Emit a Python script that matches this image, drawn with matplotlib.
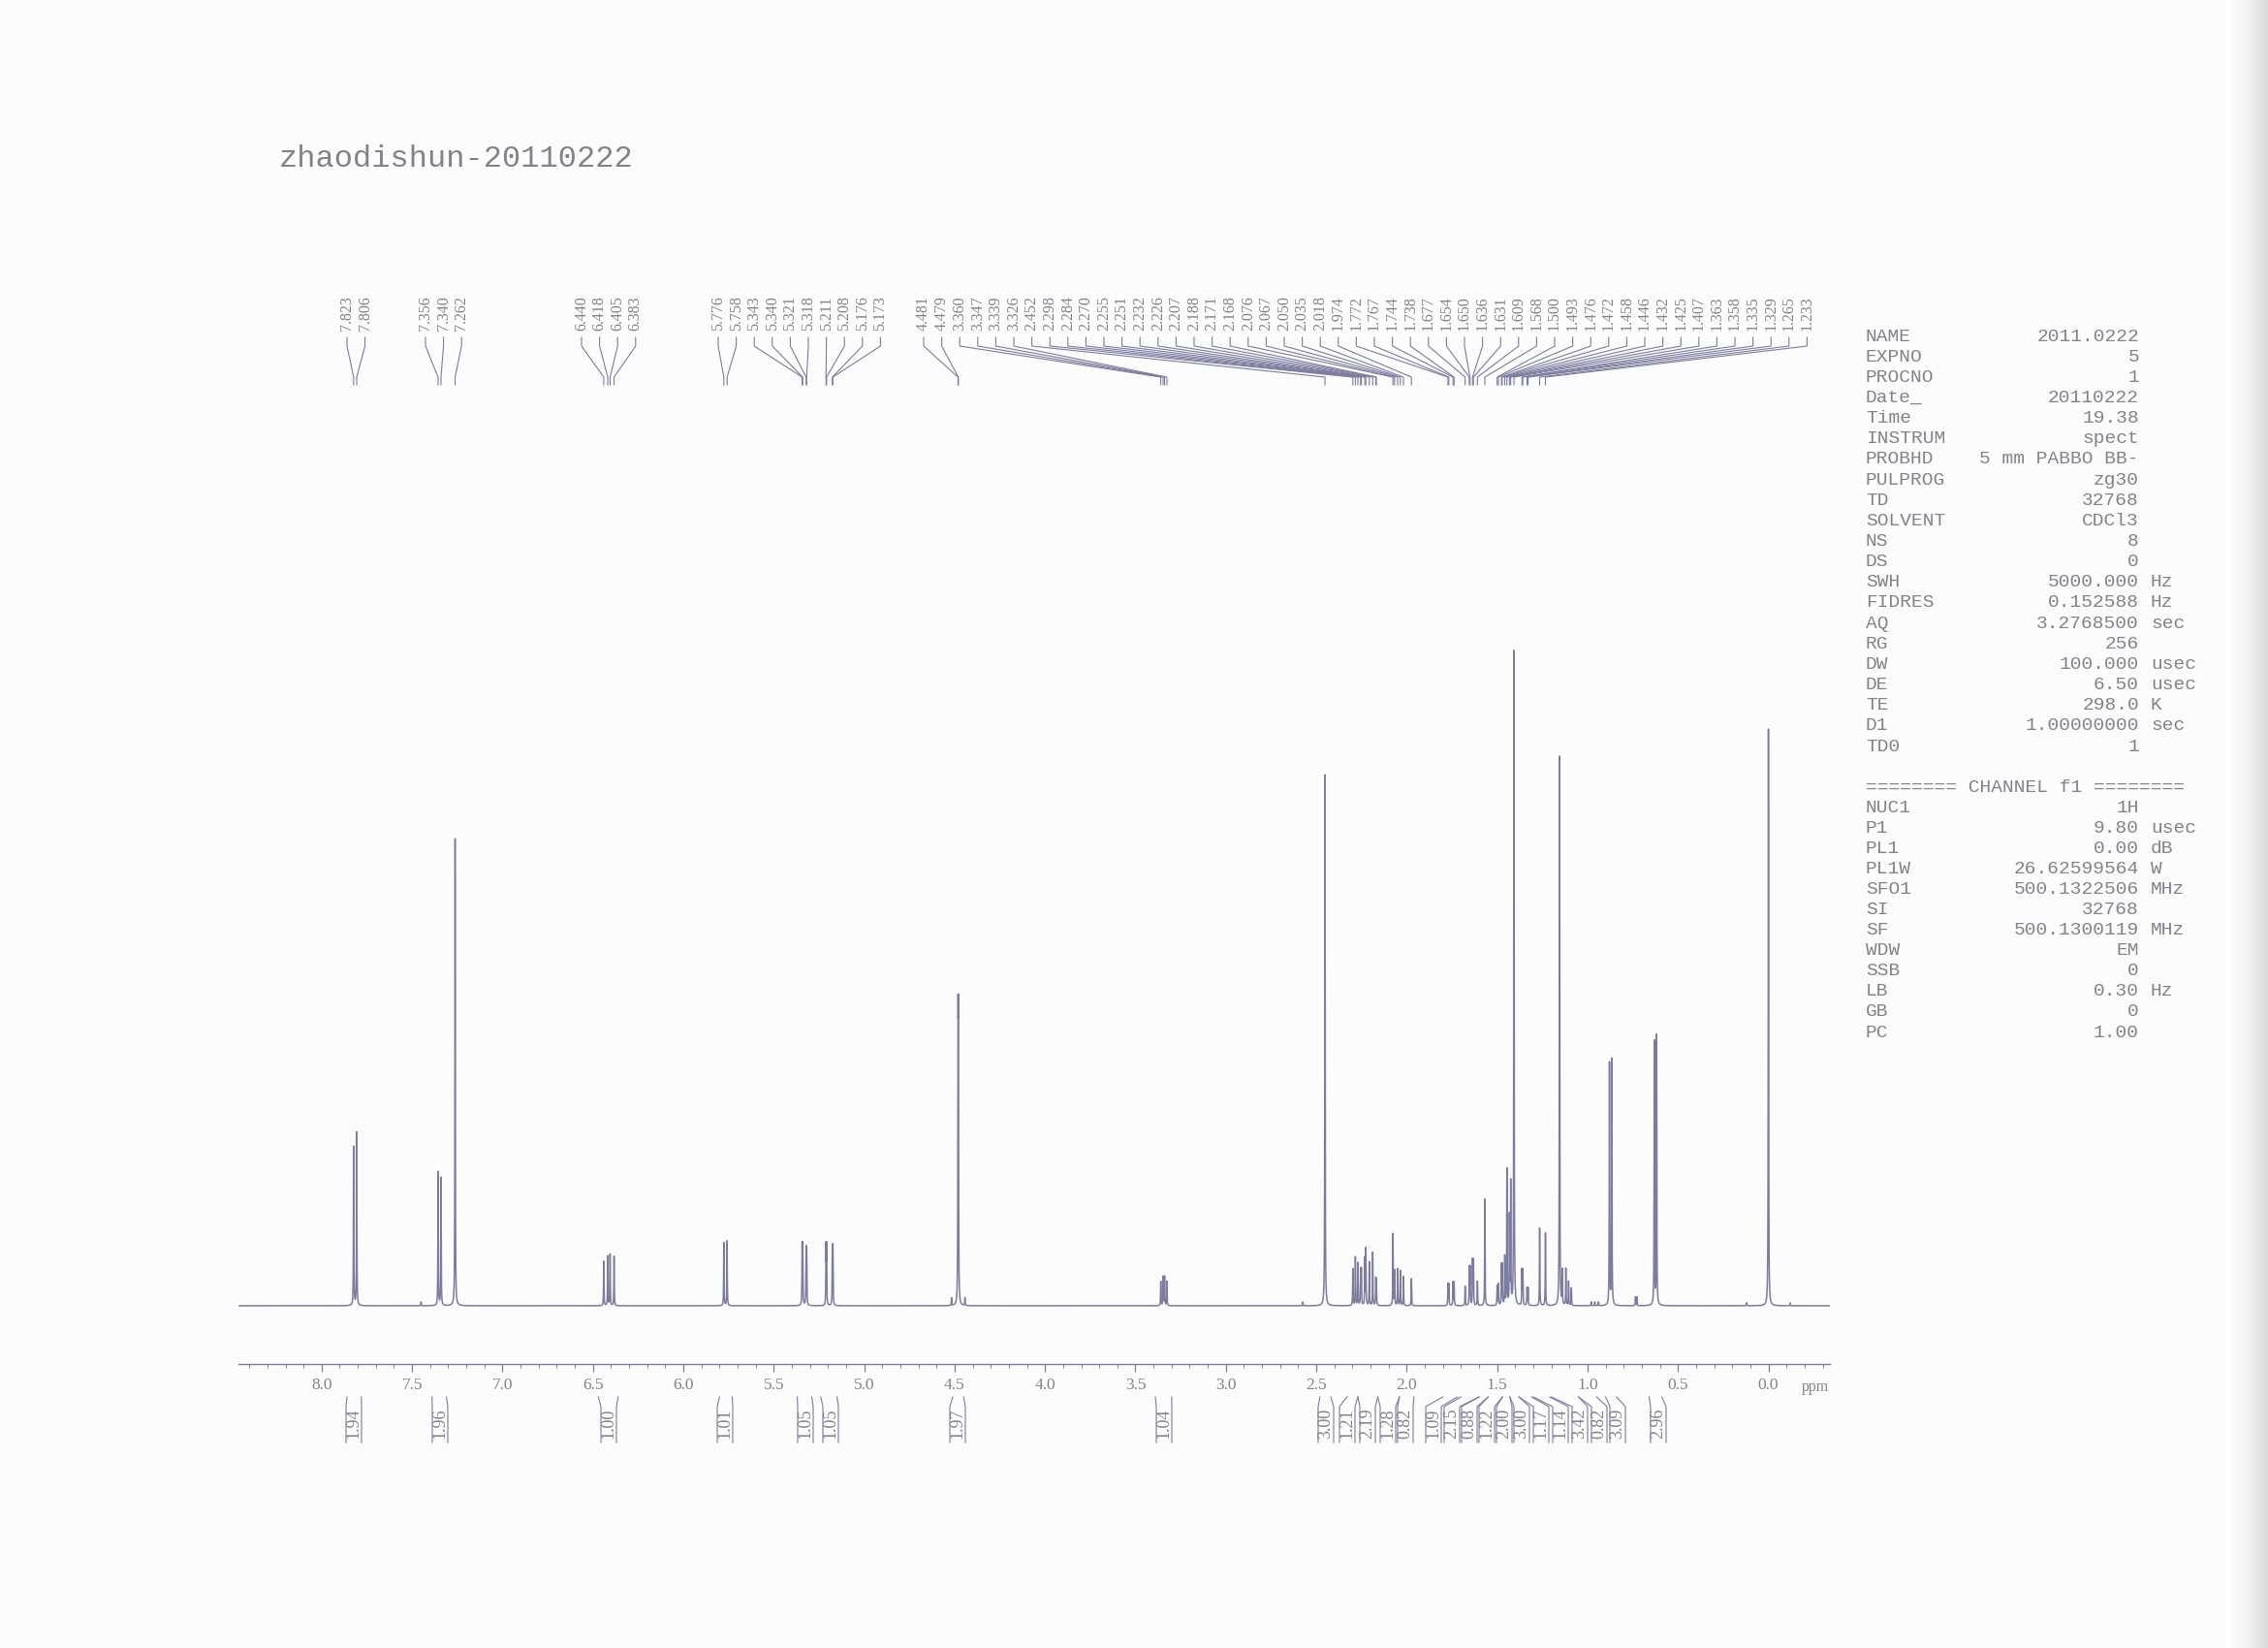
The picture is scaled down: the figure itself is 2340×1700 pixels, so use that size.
import matplotlib
matplotlib.use('Agg')
import matplotlib.pyplot as plt
import numpy as np

# ---- data ----
title = 'zhaodishun-20110222'

# peak-pick values printed above the spectrum
peak_labels = [7.823, 7.806,
               7.356, 7.340, 7.262,
               6.440, 6.418, 6.405, 6.383,
               5.776, 5.758, 5.343, 5.340, 5.321, 5.318, 5.211, 5.208, 5.176, 5.173,
               4.481, 4.479, 3.360, 3.347, 3.339, 3.326, 2.452, 2.298, 2.284, 2.270,
               2.255, 2.251, 2.232, 2.226, 2.207, 2.188, 2.171, 2.168, 2.076, 2.067,
               2.050, 2.035, 2.018, 1.974, 1.772, 1.767, 1.744, 1.738, 1.677, 1.654,
               1.650, 1.636, 1.631, 1.609, 1.568, 1.500, 1.493, 1.476, 1.472, 1.458,
               1.446, 1.432, 1.425, 1.407, 1.363, 1.358, 1.335, 1.329, 1.265, 1.233]

# individual lines of the spectrum (ppm) and their heights (arbitrary units)
line_ppm = [7.823, 7.806, 7.45, 7.356, 7.340, 7.262,
            6.440, 6.418, 6.405, 6.383,
            5.776, 5.758, 5.343, 5.340, 5.321, 5.318, 5.211, 5.208, 5.176, 5.173,
            4.517, 4.481, 4.479, 4.443,
            3.360, 3.347, 3.339, 3.326, 2.575, 2.452,
            2.298, 2.284, 2.270, 2.255, 2.251, 2.232, 2.226, 2.207, 2.188, 2.171, 2.168,
            2.076, 2.067, 2.050, 2.035, 2.018, 1.974,
            1.772, 1.767, 1.744, 1.738,
            1.677, 1.654, 1.650, 1.636, 1.631, 1.609, 1.568,
            1.500, 1.493, 1.476, 1.472, 1.458, 1.446, 1.432, 1.425, 1.407,
            1.363, 1.358, 1.335, 1.329, 1.265, 1.233,
            1.155, 1.140, 1.120, 1.105, 1.090,
            0.980, 0.960, 0.940, 0.879, 0.866, 0.735, 0.728, 0.631, 0.618,
            0.120, 0.000, -0.120]
line_height = [164, 179, 4, 138, 132, 482,
               46, 51, 53, 51,
               65, 67, 58, 58, 54, 54, 58, 58, 56, 56,
               8, 251, 251, 8,
               25, 30, 30, 25, 4, 549,
               38, 50, 44, 36, 36, 48, 58, 45, 55, 26, 24,
               74, 36, 38, 36, 30, 28,
               22, 22, 24, 24,
               20, 38, 38, 46, 46, 25, 110,
               20, 22, 40, 40, 50, 140, 90, 125, 676,
               36, 36, 18, 18, 80, 75,
               567, 35, 38, 25, 18,
               4, 4, 4, 250, 254, 9, 9, 272, 278,
               3, 595, 3]

# integrals: value and region (ppm from, ppm to)
integral_values = ['1.94', '1.96', '1.00', '1.01', '1.05', '1.05', '1.97', '1.04',
                   '3.00', '1.21', '2.19', '1.28', '0.82', '1.09', '2.15', '0.88',
                   '1.22', '2.00', '3.00', '1.17', '1.14', '3.42', '0.82', '3.09', '2.96']
integral_from = [7.86, 7.39, 6.47, 5.80, 5.37, 5.24, 4.51, 3.39,
                 2.48, 2.33, 2.27, 2.16, 2.04, 1.80, 1.70, 1.60,
                 1.55, 1.47, 1.43, 1.38, 1.30, 1.20, 1.05, 0.90, 0.66]
integral_to = [7.78, 7.31, 6.36, 5.73, 5.29, 5.15, 4.45, 3.30,
               2.42, 2.27, 2.16, 2.04, 1.96, 1.72, 1.60, 1.55,
               1.47, 1.43, 1.38, 1.31, 1.21, 1.05, 0.95, 0.84, 0.59]

param_names = ['NAME', 'EXPNO', 'PROCNO', 'Date_', 'Time', 'INSTRUM', 'PROBHD',
               'PULPROG', 'TD', 'SOLVENT', 'NS', 'DS', 'SWH', 'FIDRES', 'AQ', 'RG',
               'DW', 'DE', 'TE', 'D1', 'TD0']
param_values = ['2011.0222', '5', '1', '20110222', '19.38', 'spect', '5 mm PABBO BB-',
                'zg30', '32768', 'CDCl3', '8', '0', '5000.000', '0.152588', '3.2768500',
                '256', '100.000', '6.50', '298.0', '1.00000000', '1']
param_units = ['', '', '', '', '', '', '', '', '', '', '', '', 'Hz', 'Hz', 'sec', '',
               'usec', 'usec', 'K', 'sec', '']

channel_names = ['NUC1', 'P1', 'PL1', 'PL1W', 'SFO1', 'SI', 'SF', 'WDW', 'SSB', 'LB', 'GB', 'PC']
channel_values = ['1H', '9.80', '0.00', '26.62599564', '500.1322506', '32768',
                  '500.1300119', 'EM', '0', '0.30', '0', '1.00']
channel_units = ['', 'usec', 'dB', 'W', 'MHz', '', 'MHz', '', '', 'Hz', '', '']

# ---- layout / style ----
W, H = 2340, 1700
PPM_LEFT, PPM_RIGHT = 8.46, -0.34
AX_X0, AX_X1 = 246, 1888          # spectrum axes, px from left
AX_YBOT, AX_YTOP = 1407, 420      # px from top
BASE_OFFSET = 60                  # baseline sits above the ppm axis
HWHM = 0.0012
# peak label groups: (first index, count, first label x px)
label_groups = [(0, 2, 358), (2, 3, 439), (5, 4, 600), (9, 10, 741), (19, 50, 953)]
LABEL_STEP = 18.6
int_label_x = [365, 454, 628, 748, 831, 857, 988, 1201,
               1368, 1390, 1411, 1432, 1450, 1479, 1498, 1516,
               1534, 1552, 1570, 1590, 1610, 1630, 1650, 1669, 1711]

LINE_C = '#7c7c9f'
TEXT_C = '#82828d'
MONO = 'Liberation Mono'
SERIF = 'Liberation Serif'

fig = plt.figure(figsize=(W / 100, H / 100), dpi=100)
fig.patch.set_facecolor('#fcfcfd')

# overlay in pixel coordinates for annotations
ov = fig.add_axes([0, 0, 1, 1])
ov.axis('off')

# faint scan shadow on the right edge
grad = np.linspace(0, 1, 60)[None, :] ** 1.3
ov.imshow(grad, extent=(2295, W, H, 0), cmap='Greys', vmin=0, vmax=4.0,
          aspect='auto', zorder=0)
ov.set_xlim(0, W)
ov.set_ylim(H, 0)

ax = fig.add_axes([AX_X0 / W, 1 - AX_YBOT / H, (AX_X1 - AX_X0) / W, (AX_YBOT - AX_YTOP) / H])
ax.patch.set_alpha(0)

ppm = np.linspace(PPM_LEFT, PPM_RIGHT, 80000)
spec = np.zeros_like(ppm)
for p, h in zip(line_ppm, line_height):
    spec += h / (1 + ((ppm - p) / HWHM) ** 2)
ax.plot(ppm, spec, color=LINE_C, lw=1.1)
ax.set_xlim(PPM_LEFT, PPM_RIGHT)
ax.set_ylim(-BASE_OFFSET, AX_YBOT - AX_YTOP - BASE_OFFSET)

for s in ['top', 'left', 'right']:
    ax.spines[s].set_visible(False)
ax.spines['bottom'].set_color(LINE_C)
ax.spines['bottom'].set_linewidth(1.0)
ax.set_yticks([])
ax.set_xticks(np.arange(0, 8.01, 0.5))
ax.set_xticks(np.arange(-0.3, 8.45, 0.1), minor=True)
ax.set_xticklabels([f'{t:.1f}' for t in np.arange(0, 8.01, 0.5)])
ax.tick_params(axis='x', which='major', direction='out', length=6, width=0.9,
               color=LINE_C, labelcolor=TEXT_C, labelsize=12.5, pad=4)
ax.tick_params(axis='x', which='minor', direction='out', length=3, width=0.7, color=LINE_C)
for lab in ax.get_xticklabels():
    lab.set_family(SERIF)
ov.text(1873, 1431, 'ppm', family=SERIF, fontsize=11.5, color=TEXT_C, ha='center', va='center')


def ppm_px(p):
    disp = ax.transData.transform((p, 0))
    return ov.transData.inverted().transform(disp)[0]


# title
ov.text(288, 164, title, family=MONO, fontsize=23, color=TEXT_C, ha='left', va='center')

# peak labels with connector lines
for start, count, x0 in label_groups:
    for k in range(count):
        i = start + k
        xl = x0 + k * LABEL_STEP
        xp = ppm_px(peak_labels[i])
        ov.text(xl, 341, f'{peak_labels[i]:.3f}', family=SERIF, fontsize=11.5, color=TEXT_C,
                rotation=90, ha='center', va='bottom')
        ov.plot([xl, xl, xp, xp], [348, 357, 389, 397], color=LINE_C, lw=0.8)

# integrals below the axis
for val, a, b, xl in zip(integral_values, integral_from, integral_to, int_label_x):
    xa, xb = ppm_px(a), ppm_px(b)
    ov.plot([xa, xl - 8, xl - 8], [1441, 1451, 1488], color=LINE_C, lw=0.8)
    ov.plot([xb, xl + 8, xl + 8], [1441, 1451, 1488], color=LINE_C, lw=0.8)
    ov.text(xl, 1468, val, family=SERIF, fontsize=13, color=TEXT_C,
            rotation=90, ha='center', va='center')

# acquisition / processing parameters
for i, (n, v, u) in enumerate(zip(param_names, param_values, param_units)):
    y = 347 + i * 21.15
    ov.text(1925, y, n, family=MONO, fontsize=14, color=TEXT_C, ha='left', va='center')
    ov.text(2207, y, v, family=MONO, fontsize=14, color=TEXT_C, ha='right', va='center')
    if u:
        ov.text(2219, y, u, family=MONO, fontsize=14, color=TEXT_C, ha='left', va='center')

ov.text(1925, 812, '======== CHANNEL f1 ========', family=MONO, fontsize=14,
        color=TEXT_C, ha='left', va='center')
for i, (n, v, u) in enumerate(zip(channel_names, channel_values, channel_units)):
    y = 833 + i * 21.1
    ov.text(1925, y, n, family=MONO, fontsize=14, color=TEXT_C, ha='left', va='center')
    ov.text(2207, y, v, family=MONO, fontsize=14, color=TEXT_C, ha='right', va='center')
    if u:
        ov.text(2219, y, u, family=MONO, fontsize=14, color=TEXT_C, ha='left', va='center')

fig.savefig('out.png', dpi=100, facecolor=fig.get_facecolor())
